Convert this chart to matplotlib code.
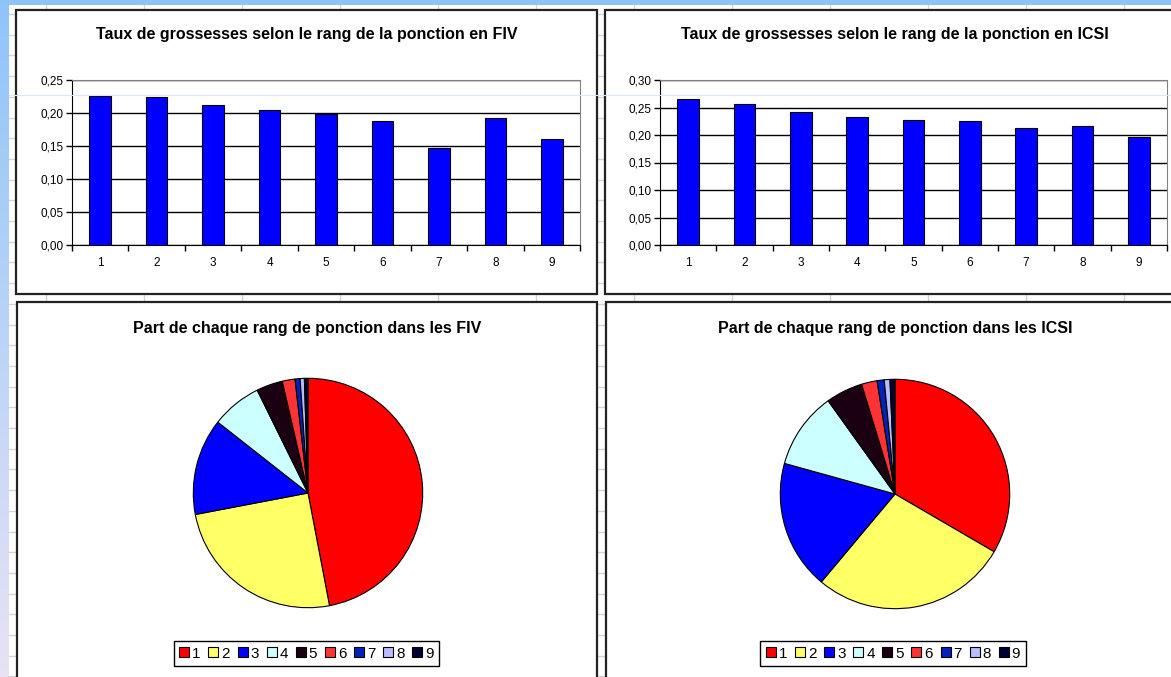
import numpy as np
import matplotlib
matplotlib.use("Agg")
import matplotlib.pyplot as plt
from matplotlib.patches import Rectangle, Patch
from matplotlib.lines import Line2D
from matplotlib.ticker import FuncFormatter

plt.rcParams["font.family"] = ["Liberation Sans", "DejaVu Sans"]

# --- data ---------------------------------------------------------------------
rangs = [1, 2, 3, 4, 5, 6, 7, 8, 9]
taux_fiv = [0.226, 0.225, 0.212, 0.204, 0.199, 0.188, 0.147, 0.192, 0.160]
taux_icsi = [0.265, 0.256, 0.241, 0.233, 0.228, 0.225, 0.213, 0.217, 0.197]
part_fiv = [47.0, 25.0, 13.6, 7.1, 3.7, 1.8, 0.7, 0.6, 0.5]
part_icsi = [33.4, 27.7, 18.2, 10.8, 5.2, 2.2, 1.0, 0.8, 0.7]

titre_bar_fiv = "Taux de grossesses selon le rang de la ponction en FIV"
titre_bar_icsi = "Taux de grossesses selon le rang de la ponction en ICSI"
titre_pie_fiv = "Part de chaque rang de ponction dans les FIV"
titre_pie_icsi = "Part de chaque rang de ponction dans les ICSI"

pie_colors = ["#FF0000", "#FFFF66", "#0000FF", "#CCFFFF", "#1A0010",
              "#FF3333", "#0022BB", "#BBBBFF", "#000033"]

W, H = 1171, 677
fig = plt.figure(figsize=(W / 100, H / 100), dpi=100)
fig.patch.set_facecolor("white")


def px_axes(x0, y0, x1, y1):
    # axes from pixel box (origin top-left)
    return fig.add_axes([x0 / W, 1 - y1 / H, (x1 - x0) / W, (y1 - y0) / H])


# --- spreadsheet background ---------------------------------------------------
bg = px_axes(0, 0, W, H)
bg.set_xlim(0, W)
bg.set_ylim(H, 0)
bg.axis("off")

grid_c = "#D4D4D4"
for y in np.arange(14, H, 20.7):
    bg.plot([0, W], [y, y], color=grid_c, lw=1)
for x in np.arange(46, W, 98):
    bg.plot([x, x], [0, H], color=grid_c, lw=1)

# left gradient stripe + top stripe
grad = np.linspace(0, 1, 256).reshape(-1, 1)
top_c = np.array([0.56, 0.77, 0.98])
bot_c = np.array([0.91, 0.89, 0.96])
img = top_c + grad[..., None] * (bot_c - top_c)
bg.imshow(img, extent=[0, 9, H, 0], aspect="auto", zorder=3)
bg.add_patch(Rectangle((0, 0), W, 5, color="#8EC3F8", zorder=3, lw=0))

# chart frames
panels = [(16, 10, 597, 294), (605, 10, W + 10, 294),
          (17, 302, 597, H + 10), (606, 302, W + 10, H + 10)]
for x0, y0, x1, y1 in panels:
    bg.add_patch(Rectangle((x0, y0), x1 - x0, y1 - y0, facecolor="white",
                           edgecolor="#222222", lw=1.6, zorder=4))

# titles
title_kw = dict(ha="center", va="center", fontsize=11.5, fontweight="bold", zorder=5)
bg.text(307, 35, titre_bar_fiv, **title_kw)
bg.text(895, 35, titre_bar_icsi, **title_kw)
bg.text(307, 328, titre_pie_fiv, **title_kw)
bg.text(895, 328, titre_pie_icsi, **title_kw)


# --- bar charts ----------------------------------------------------------------
def bar_chart(box, values, ymax):
    ax = px_axes(*box)
    ax.bar(rangs, values, width=0.38, color="#0000FF", edgecolor="black",
           lw=0.8, zorder=3)
    ax.set_xlim(0.5, 9.5)
    ax.set_ylim(0, ymax)
    ax.set_yticks(np.arange(0, ymax + 0.001, 0.05))
    ax.yaxis.set_major_formatter(FuncFormatter(lambda v, p: f"{v:.2f}".replace(".", ",")))
    ax.set_xticks(np.arange(0.5, 10, 1))
    ax.set_xticklabels([])
    ax.set_xticks(rangs, minor=True)
    ax.set_xticklabels([str(r) for r in rangs], minor=True)
    ax.tick_params(axis="x", which="major", length=4, direction="out", width=1)
    ax.tick_params(axis="x", which="minor", length=0, pad=9, labelsize=8.5)
    ax.tick_params(axis="y", length=4, direction="out", width=1, pad=2, labelsize=8.5)
    ax.yaxis.grid(True, color="black", lw=1)
    ax.set_axisbelow(True)
    for s in ("top", "right"):
        ax.spines[s].set_color("#808080")
    for s in ("left", "bottom"):
        ax.spines[s].set_color("black")
    return ax


bar_chart((72, 80, 580, 245), taux_fiv, 0.25)
bar_chart((660, 80, 1167, 245), taux_icsi, 0.30)


# --- pie charts ----------------------------------------------------------------
def pie_chart(cx, cy, r, values):
    ax = px_axes(cx - r, cy - r, cx + r, cy + r)
    ax.pie(values, colors=pie_colors, startangle=90, counterclock=False,
           radius=1, wedgeprops=dict(edgecolor="black", linewidth=0.8))
    ax.set_xlim(-1.02, 1.02)
    ax.set_ylim(-1.02, 1.02)
    ax.set_aspect("auto")
    return ax


pie_chart(308, 493, 117, part_fiv)
pie_chart(895, 494, 117, part_icsi)

handles = [Patch(facecolor=c, edgecolor="black", lw=0.8) for c in pie_colors]
for cx in (306.5, 893):
    fig.legend(handles, [str(r) for r in rangs], ncol=9, loc="center",
               bbox_to_anchor=(cx / W, 1 - 653.5 / H), fontsize=11,
               handlelength=0.65, handleheight=0.65, handletextpad=0.2,
               columnspacing=0.5, borderpad=0.35, fancybox=False,
               framealpha=1, edgecolor="black")

# faint blue line crossing the screenshot
fig.add_artist(Line2D([9 / W, 1], [1 - 95 / H, 1 - 95 / H], color="#DCE8F7",
                      lw=0.8, transform=fig.transFigure, zorder=10))

fig.savefig("out.png", dpi=100)
